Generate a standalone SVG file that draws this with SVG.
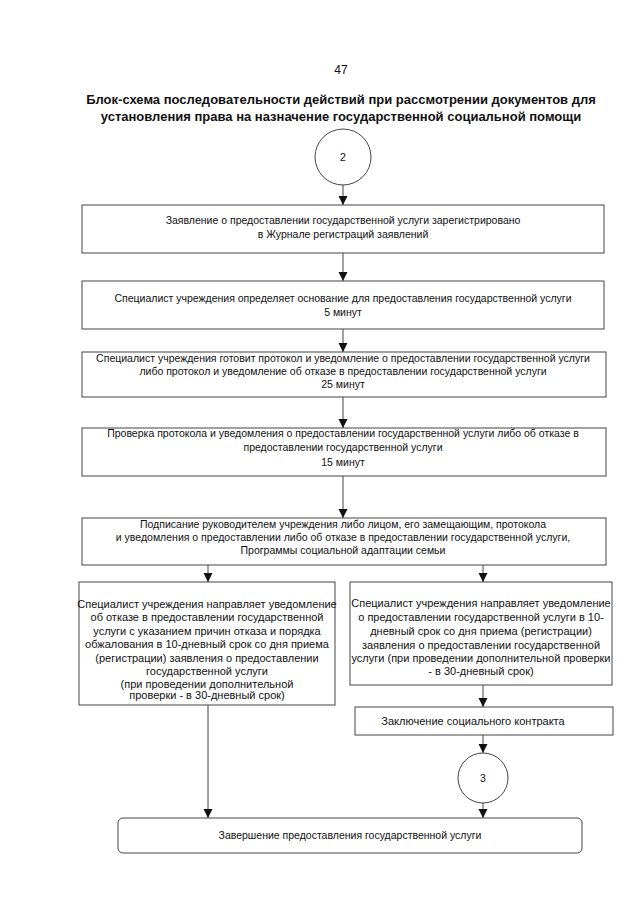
<svg xmlns="http://www.w3.org/2000/svg" width="640" height="905" viewBox="0 0 640 905">
<style>
text{font-family:"Liberation Sans",Arial,sans-serif;fill:#111;font-size:10.5px;text-anchor:middle}
.t{font-weight:bold;font-size:13px}
.s{font-size:11px}
.b{fill:#fff;stroke:#444;stroke-width:1}
.c{stroke:#444;stroke-width:1;fill:none;marker-end:url(#a)}
</style>
<defs>
<marker id="a" markerWidth="10" markerHeight="10" refX="9" refY="5" orient="auto" markerUnits="userSpaceOnUse">
<path d="M0,0.5 L9,5 L0,9.5 Z" fill="#111"/>
</marker>
</defs>
<rect width="640" height="905" fill="#fff"/>
<text x="341" y="74" style="font-size:12px">47</text>
<text class="t" x="341" y="104">Блок-схема последовательности действий при рассмотрении документов для</text>
<text class="t" x="341" y="121">установления права на назначение государственной социальной помощи</text>

<g id="connectors">
<line class="c" x1="343" y1="185" x2="343" y2="205"/>
<line class="c" x1="343" y1="253" x2="343" y2="281"/>
<line class="c" x1="343" y1="329" x2="343" y2="352"/>
<line class="c" x1="343" y1="397" x2="343" y2="428"/>
<line class="c" x1="343" y1="476" x2="343" y2="518"/>
<line class="c" x1="208" y1="565" x2="208" y2="582"/>
<line class="c" x1="483" y1="565" x2="483" y2="582"/>
<line class="c" x1="483" y1="685" x2="483" y2="707"/>
<line class="c" x1="483" y1="735" x2="483" y2="753"/>
<line class="c" x1="483" y1="803" x2="483" y2="818"/>
<line class="c" x1="208" y1="705" x2="208" y2="818"/>
</g>

<g id="n2">
<circle class="b" cx="343" cy="157" r="28"/>
<text x="343" y="161">2</text>
</g>
<g id="box1">
<rect class="b" x="82" y="205" width="522" height="48"/>
<text x="343" y="224">Заявление о предоставлении государственной услуги зарегистрировано</text>
<text x="343" y="238">в Журнале регистраций заявлений</text>
</g>
<g id="box2">
<rect class="b" x="82" y="281" width="522" height="48"/>
<text x="343" y="302">Специалист учреждения определяет основание для предоставления государственной услуги</text>
<text x="343" y="316">5 минут</text>
</g>
<g id="box3">
<rect class="b" x="82" y="352" width="524" height="45"/>
<text x="343" y="362">Специалист учреждения готовит протокол и уведомление о предоставлении государственной услуги</text>
<text x="343" y="375">либо протокол и уведомление об отказе в предоставлении государственной услуги</text>
<text x="343" y="388">25 минут</text>
</g>
<g id="box4">
<rect class="b" x="82" y="428" width="524" height="48"/>
<text x="343" y="437">Проверка протокола и уведомления о предоставлении государственной услуги либо об отказе в</text>
<text x="343" y="451">предоставлении государственной услуги</text>
<text x="343" y="466">15 минут</text>
</g>
<g id="box5">
<rect class="b" x="82" y="518" width="524" height="47"/>
<text x="343" y="528">Подписание руководителем учреждения либо лицом, его замещающим, протокола</text>
<text x="343" y="541">и уведомления о предоставлении либо об отказе в предоставлении государственной услуги,</text>
<text x="343" y="554">Программы социальной адаптации семьи</text>
</g>
<g id="boxLeft">
<rect class="b" x="79" y="582" width="256" height="123"/>
<text class="s" x="207" y="608">Специалист учреждения направляет уведомление</text>
<text class="s" x="207" y="621">об отказе в предоставлении государственной</text>
<text class="s" x="207" y="635">услуги с указанием причин отказа и порядка</text>
<text class="s" x="207" y="648">обжалования в 10-дневный срок со дня приема</text>
<text class="s" x="207" y="662">(регистрации) заявления о предоставлении</text>
<text class="s" x="207" y="675">государственной услуги</text>
<text class="s" x="207" y="688">(при проведении дополнительной</text>
<text class="s" x="207" y="699">проверки - в 30-дневный срок)</text>
</g>
<g id="boxRight">
<rect class="b" x="350" y="582" width="262" height="103"/>
<text class="s" x="481" y="607">Специалист учреждения направляет уведомление</text>
<text class="s" x="481" y="621">о предоставлении государственной услуги в 10-</text>
<text class="s" x="481" y="635">дневный срок со дня приема (регистрации)</text>
<text class="s" x="481" y="649">заявления о предоставлении государственной</text>
<text class="s" x="481" y="662">услуги (при проведении дополнительной проверки</text>
<text class="s" x="481" y="675">- в 30-дневный срок)</text>
</g>
<g id="boxContract">
<rect class="b" x="355" y="707" width="258" height="28"/>
<text class="s" x="473" y="725">Заключение социального контракта</text>
</g>
<g id="n3">
<circle class="b" cx="483" cy="778" r="25"/>
<text x="483" y="782">3</text>
</g>
<g id="boxEnd">
<rect class="b" x="118" y="818" width="464" height="35" rx="5"/>
<text x="350" y="839">Завершение предоставления государственной услуги</text>
</g>
</svg>
